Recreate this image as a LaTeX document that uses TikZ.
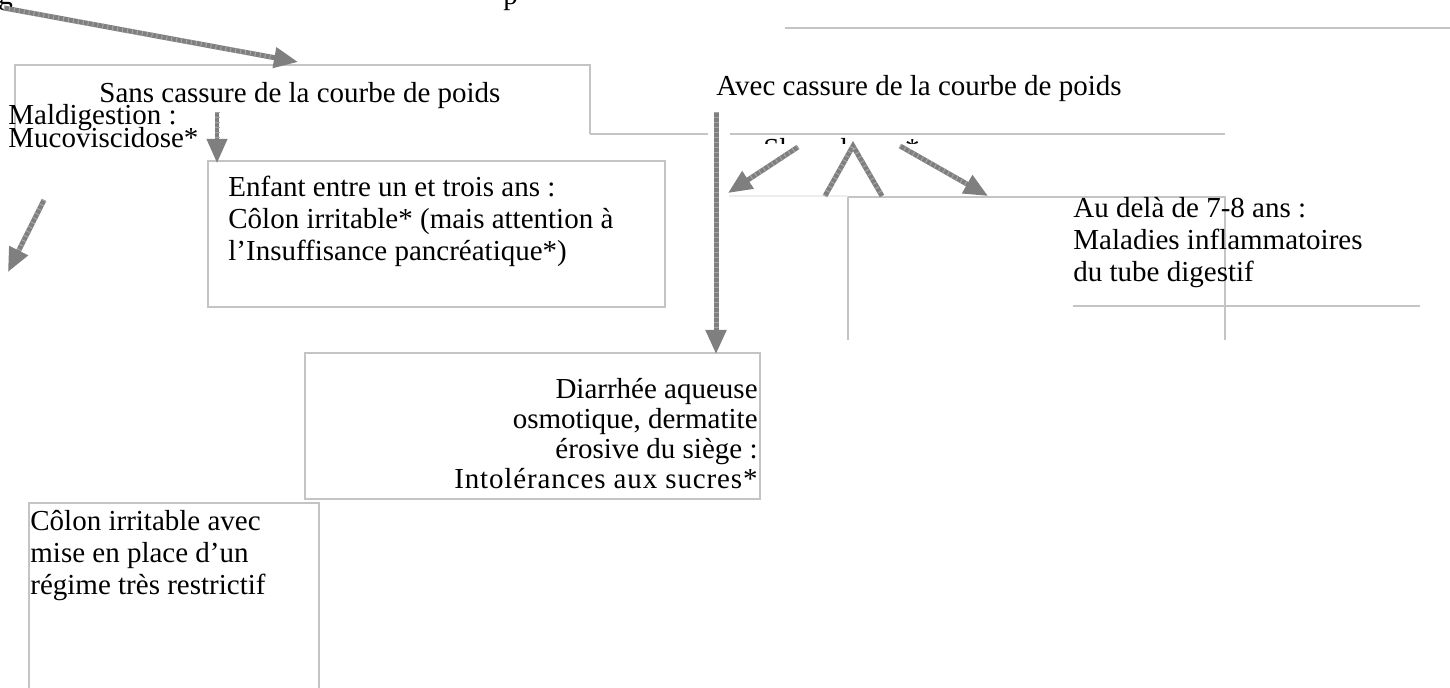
\documentclass[tikz,border=0pt]{standalone}
\usepackage{fontspec}
\setmainfont{Liberation Serif}
\usepackage{tikz}
\usetikzlibrary{positioning, calc, arrows.meta}
\usepackage{xcolor}
\definecolor{FrameGray}{HTML}{C4C4C4}
\definecolor{ArrowGray}{HTML}{7F7F7F}
\definecolor{ArrowLight}{HTML}{A6A6A6}
\definecolor{FaintGray}{HTML}{EDEDED}
\newcommand{\tightlines}{\lineskiplimit=-20pt\relax}

\begin{document}
\begin{tikzpicture}[
  x=0.5pt, y=-0.5pt,
  % anchor is the baseline of the LAST line of a node
  txt/.style={anchor=base west, inner sep=0pt, align=left,
    font=\fontsize{14.5}{16}\selectfont},
  txtr/.style={anchor=base east, inner sep=0pt, align=right,
    font=\fontsize{14.5}{15}\selectfont},
  frame/.style={draw=FrameGray, line width=1pt},
  arr/.style={-{Triangle[length=12pt, width=10pt]}, draw=ArrowGray,
    line width=2.5pt,
    postaction={draw=ArrowLight, -, line width=2.5pt, shorten >=12pt,
      dash pattern=on 0.5pt off 2pt}},
  leg/.style={draw=ArrowGray, line width=2.5pt,
    postaction={draw=ArrowLight, line width=2.5pt,
      dash pattern=on 0.5pt off 2pt}}
]
  \useasboundingbox (0,0) rectangle (1450,688);

  % cut-off title above
  \node[txt] (tg) at (-2,5) {g};
  \node[txt] (tp) at (503,5) {p};

  % frames
  \draw[frame] (785,28) -- (1450,28);
  \draw[frame] (15,136) -- (15,65) -- (590,65) -- (590,134);
  \draw[frame] (590,134) -- (708,134);
  \draw[frame] (730,134) -- (1225,134);
  \draw[frame] (208,161) rectangle (665,307);
  \draw[frame] (305,353) rectangle (760,499);
  \draw[frame] (29,503) rectangle (319,700);
  \draw[frame] (848,340) -- (848,197) -- (1225,197) -- (1225,340);
  \draw[frame] (1073,306) -- (1420,306);

  % hidden label behind the arrow panel
  \begin{scope}
    \clip (729,120) rectangle (1000,144);
    \node[txt] (shw) at (763,159) {Shwachman*};
  \end{scope}
  \fill[white] (729,144) rectangle (990,196);
  \draw[FaintGray, line width=0.8pt] (729,196) -- (848,196);

  % texts
  \node[txt] (sans) at (99,103) {Sans cassure de la courbe de poids};
  \node[txt, font=\fontsize{14.5}{11.5}\selectfont\tightlines]
    (maldig) at (8,148) {Maldigestion :\\Mucoviscidose*};
  \node[txt] (avec) at (716,96) {Avec cassure de la courbe de poids};
  \node[txt] (enfant) at (228,261)
    {Enfant entre un et trois ans :\\C\^olon irritable* (mais attention \`a\\l’Insuffisance pancr\'eatique*)};
  \node[txt] (audela) at (1073,282)
    {Au del\`a de 7-8 ans :\\Maladies inflammatoires\\du tube digestif};
  \node[txtr] (diarrhee) at (758,489)
    {Diarrh\'ee aqueuse\\osmotique, dermatite\\\'erosive du si\`ege :\\{\addfontfeature{LetterSpace=3}Intol\'erances aux sucres*}};
  \node[txt] (colon) at (30,595)
    {C\^olon irritable avec\\mise en place d’un\\r\'egime tr\`es restrictif};

  % arrow ends
  \coordinate (a1) at (4,8);      \coordinate (b1) at (298,62);
  \coordinate (a2) at (217,112);  \coordinate (b2) at (217,163);
  \coordinate (a3) at (44,200);   \coordinate (b3) at (8,272);
  \coordinate (a4) at (716,112);  \coordinate (b4) at (716,354);
  \coordinate (a5) at (798,147);  \coordinate (b5) at (728,193);
  \coordinate (a6) at (900,146);  \coordinate (b6) at (988,196);
  \coordinate (lf) at (825,196);  \coordinate (ap) at (853,146);
  \coordinate (rf) at (882,196);

  \draw[arr] (a1) -- (b1);
  \draw[arr, line width=2pt] (a2) -- (b2);
  \draw[arr] (a3) -- (b3);
  \draw[arr] (a4) -- (b4);
  \draw[arr] (a5) -- (b5);
  \draw[arr] (a6) -- (b6);
  \draw[leg] (lf) -- (ap) -- (rf);
\end{tikzpicture}
\end{document}
